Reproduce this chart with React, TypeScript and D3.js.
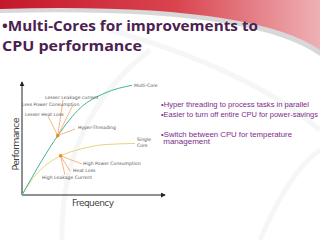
import * as d3 from "d3";

// curves, in % of axis length (frequency, performance)
const multiCore: [number, number][] = [[0, 0], [14, 31], [25, 53], [41, 78], [58, 91], [77, 98]];
const singleCore: [number, number][] = [[0, 0], [9, 17], [18, 28], [27, 35], [41, 41], [58, 45], [79, 46]];

const multiCoreDot: [number, number] = [25, 53];
const singleCoreDot: [number, number] = [27, 35];

const multiCoreNotes = ["Lesser Leakage current", "Less Power Consumption", "Lesser Heat Loss", "Hyper-Threading"];
const singleCoreNotes = ["High Power Consumption", "Heat Loss", "High Leakage Current"];

const titleLines = ["\u2022Multi-Cores for improvements to", "CPU performance"];
const bullets = [
  "\u2022Hyper threading to process tasks in parallel",
  "\u2022Easier to turn off entire CPU for power-savings",
  "\u2022Switch between CPU for temperature",
  " management",
];

// layout for the annotation labels (pixel positions)
const multiNoteLayout = [
  { x: 45, y: 98.5, ex: 63, ey: 100 },
  { x: 22, y: 105.5, ex: 73, ey: 105 },
  { x: 25, y: 115.5, ex: 48, ey: 116 },
  { x: 78, y: 129, ex: 75, ey: 129 },
];
const singleNoteLayout = [
  { x: 83, y: 165, ex: 82, ey: 164 },
  { x: 73, y: 171.5, ex: 70, ey: 171 },
  { x: 42, y: 178.5, ex: 65, ey: 175 },
];
const bulletLayout = [
  { x: 161, y: 106.5, w: 148 },
  { x: 161, y: 116.5, w: 157 },
  { x: 161, y: 136.5, w: 131 },
  { x: 161, y: 143.5, w: 49 },
];

const W = 320;
const H = 240;

const x = d3.scaleLinear().domain([0, 100]).range([22, 165]);
const y = d3.scaleLinear().domain([0, 100]).range([195, 83]);

const line = d3
  .line<[number, number]>()
  .x((d) => x(d[0]))
  .y((d) => y(d[1]))
  .curve(d3.curveMonotoneX);

const labelFont = "'Liberation Sans', Arial, sans-serif";
const thinFont = "'DejaVu Sans', sans-serif";

export default function App() {
  const [mx, my] = [x(multiCoreDot[0]), y(multiCoreDot[1])];
  const [sx, sy] = [x(singleCoreDot[0]), y(singleCoreDot[1])];
  return (
    <svg
      width={W}
      height={H}
      style={{ position: "fixed", left: 0, top: 0, background: "#fff" }}
    >
      <defs>
        <linearGradient id="band" x1="0" x2="1" y1="0" y2="0">
          <stop offset="0" stopColor="#c5172b" />
          <stop offset="0.55" stopColor="#d9444f" />
          <stop offset="1" stopColor="#eeb1b5" />
        </linearGradient>
        <marker id="arr" viewBox="0 0 6 6" refX="5" refY="3" markerWidth="5" markerHeight="5" orient="auto">
          <path d="M0,0 L6,3 L0,6 Z" fill="#222" />
        </marker>
      </defs>

      {/* faint background ornaments */}
      <g fill="none" stroke="#f6f6f6" strokeWidth={5}>
        <path d="M150,50 Q60,120 62,240" />
        <path d="M110,30 Q250,70 320,130" />
        <path d="M260,240 Q290,170 320,150" />
      </g>

      {/* top swoosh */}
      <path d="M0,0 L320,0 L320,56 Q250,6 0,13 Z" fill="#d8d8d8" />
      <path d="M0,0 L320,0 L320,50 Q250,2 0,9 Z" fill="url(#band)" />

      {titleLines.map((t, i) => (
        <text
          key={t}
          x={2}
          y={31 + i * 19.5}
          fontFamily="'Open Sans', sans-serif"
          fontWeight="bold"
          fontSize={14.5}
          fill="#4b2150"
          textLength={i === 0 ? 256 : 140}
          lengthAdjust="spacingAndGlyphs"
        >
          {t}
        </text>
      ))}

      {/* axes */}
      <line x1={x(0)} y1={y(0)} x2={x(0)} y2={y(100) - 1} stroke="#222" strokeWidth={1} markerEnd="url(#arr)" />
      <line x1={x(0)} y1={y(0)} x2={x(100)} y2={y(0)} stroke="#222" strokeWidth={1} markerEnd="url(#arr)" />
      <text x={93} y={206} textAnchor="middle" fontFamily={thinFont} fontSize={9} fill="#444" textLength={42}>
        Frequency
      </text>
      <text
        transform={`translate(19,${144}) rotate(-90)`}
        textAnchor="middle"
        fontFamily={thinFont}
        fontSize={9.5}
        fill="#444"
        textLength={53}
      >
        Performance
      </text>

      {/* curves */}
      <path d={line(singleCore) ?? ""} fill="none" stroke="#e8d37c" strokeWidth={1} />
      <path d={line(multiCore) ?? ""} fill="none" stroke="#3fb792" strokeWidth={1} />

      <text x={x(77) + 2} y={y(98) + 1.5} fontFamily={thinFont} fontSize={4.6} fill="#555">
        Multi-Core
      </text>
      <text x={x(79) + 2} y={y(46) - 2} fontFamily={thinFont} fontSize={4.6} fill="#555">
        <tspan x={x(79) + 2}>Single</tspan>
        <tspan x={x(79) + 2} dy={6}>Core</tspan>
      </text>

      {/* annotation lines */}
      <g stroke="#f3a463" strokeWidth={0.8}>
        {multiNoteLayout.map((l, i) => (
          <line key={i} x1={mx} y1={my} x2={l.ex} y2={l.ey} />
        ))}
        {singleNoteLayout.map((l, i) => (
          <line key={i} x1={sx} y1={sy} x2={l.ex} y2={l.ey} />
        ))}
      </g>
      <circle cx={mx} cy={my} r={1.8} fill="#f08c1e" />
      <circle cx={sx} cy={sy} r={1.8} fill="#f08c1e" />

      <g fontFamily={thinFont} fontSize={4.6} fill="#555">
        {multiCoreNotes.map((t, i) => (
          <text key={t} x={multiNoteLayout[i].x} y={multiNoteLayout[i].y}>
            {t}
          </text>
        ))}
        {singleCoreNotes.map((t, i) => (
          <text key={t} x={singleNoteLayout[i].x} y={singleNoteLayout[i].y}>
            {t}
          </text>
        ))}
      </g>

      {/* bullets on the right */}
      <g fontFamily={labelFont} fontSize={6.6} fill="#7d2b8c">
        {bullets.map((t, i) => (
          <text
            key={i}
            x={bulletLayout[i].x}
            y={bulletLayout[i].y}
            textLength={bulletLayout[i].w}
            lengthAdjust="spacingAndGlyphs"
            xmlSpace="preserve"
          >
            {t}
          </text>
        ))}
      </g>
    </svg>
  );
}
